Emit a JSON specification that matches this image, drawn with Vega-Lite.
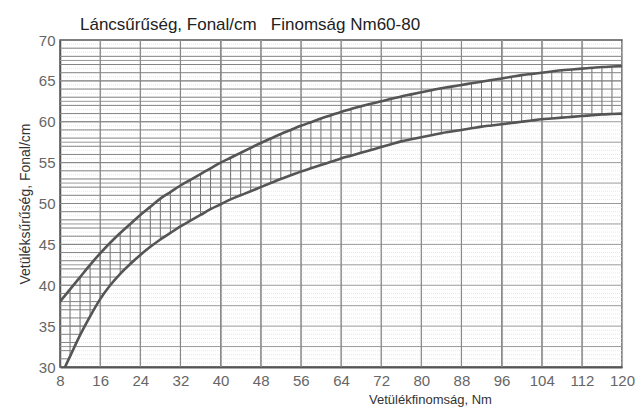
{
  "$schema": "https://vega.github.io/schema/vega-lite/v6.json",
  "width": 562,
  "height": 327,
  "autosize": "none",
  "padding": {"left": 60, "top": 40, "right": 13, "bottom": 40},
  "title": {
    "text": "Láncsűrűség, Fonal/cm\u00a0\u00a0\u00a0Finomság Nm60-80",
    "anchor": "start",
    "frame": "group",
    "dx": 20,
    "offset": -1,
    "font": "Liberation Sans",
    "fontSize": 17,
    "fontWeight": "normal",
    "color": "#222"
  },
  "config": {
    "view": {"stroke": "#555", "strokeWidth": 1.5},
    "axis": {"labelFont": "Liberation Sans", "titleFont": "Liberation Sans"}
  },
  "datasets": {
    "curve": [
      {"x": 8, "lo": 28.7, "hi": 38.0},
      {"x": 10, "lo": 31.3, "hi": 39.5},
      {"x": 12, "lo": 33.9, "hi": 41.0},
      {"x": 14, "lo": 36.2, "hi": 42.5},
      {"x": 16, "lo": 38.3, "hi": 43.9},
      {"x": 18, "lo": 40.0, "hi": 45.2},
      {"x": 20, "lo": 41.4, "hi": 46.4},
      {"x": 22, "lo": 42.6, "hi": 47.5},
      {"x": 24, "lo": 43.7, "hi": 48.6},
      {"x": 26, "lo": 44.7, "hi": 49.6},
      {"x": 28, "lo": 45.6, "hi": 50.6},
      {"x": 30, "lo": 46.4, "hi": 51.4},
      {"x": 32, "lo": 47.2, "hi": 52.2},
      {"x": 34, "lo": 47.9, "hi": 52.9},
      {"x": 36, "lo": 48.6, "hi": 53.6},
      {"x": 38, "lo": 49.3, "hi": 54.3},
      {"x": 40, "lo": 49.9, "hi": 55.0},
      {"x": 42, "lo": 50.5, "hi": 55.6},
      {"x": 44, "lo": 51.0, "hi": 56.2},
      {"x": 46, "lo": 51.5, "hi": 56.8},
      {"x": 48, "lo": 52.0, "hi": 57.4},
      {"x": 50, "lo": 52.5, "hi": 57.95},
      {"x": 52, "lo": 53.0, "hi": 58.5},
      {"x": 54, "lo": 53.45, "hi": 59.0},
      {"x": 56, "lo": 53.9, "hi": 59.5},
      {"x": 58, "lo": 54.3, "hi": 59.95},
      {"x": 60, "lo": 54.7, "hi": 60.4},
      {"x": 62, "lo": 55.1, "hi": 60.8},
      {"x": 64, "lo": 55.5, "hi": 61.2},
      {"x": 66, "lo": 55.85, "hi": 61.55},
      {"x": 68, "lo": 56.2, "hi": 61.9},
      {"x": 70, "lo": 56.55, "hi": 62.2},
      {"x": 72, "lo": 56.9, "hi": 62.5},
      {"x": 74, "lo": 57.25, "hi": 62.8},
      {"x": 76, "lo": 57.6, "hi": 63.1},
      {"x": 78, "lo": 57.85, "hi": 63.35},
      {"x": 80, "lo": 58.1, "hi": 63.6},
      {"x": 82, "lo": 58.35, "hi": 63.85},
      {"x": 84, "lo": 58.6, "hi": 64.1},
      {"x": 86, "lo": 58.8, "hi": 64.3},
      {"x": 88, "lo": 59.0, "hi": 64.5},
      {"x": 90, "lo": 59.2, "hi": 64.7},
      {"x": 92, "lo": 59.4, "hi": 64.9},
      {"x": 94, "lo": 59.55, "hi": 65.1},
      {"x": 96, "lo": 59.7, "hi": 65.3},
      {"x": 98, "lo": 59.85, "hi": 65.5},
      {"x": 100, "lo": 60.0, "hi": 65.7},
      {"x": 102, "lo": 60.15, "hi": 65.85},
      {"x": 104, "lo": 60.3, "hi": 66.0},
      {"x": 106, "lo": 60.4, "hi": 66.15},
      {"x": 108, "lo": 60.5, "hi": 66.3},
      {"x": 110, "lo": 60.6, "hi": 66.4},
      {"x": 112, "lo": 60.7, "hi": 66.5},
      {"x": 114, "lo": 60.8, "hi": 66.6},
      {"x": 116, "lo": 60.9, "hi": 66.7},
      {"x": 118, "lo": 60.95, "hi": 66.75},
      {"x": 120, "lo": 61.0, "hi": 66.8}
    ],
    "hl": [
      {"y": 31, "x1": 8, "x2": 9.8},
      {"y": 32, "x1": 8, "x2": 10.5},
      {"y": 33, "x1": 8, "x2": 11.3},
      {"y": 34, "x1": 8, "x2": 12.1},
      {"y": 35, "x1": 8, "x2": 13.0},
      {"y": 36, "x1": 8, "x2": 13.9},
      {"y": 37, "x1": 8, "x2": 14.8},
      {"y": 38, "x1": 8, "x2": 15.7},
      {"y": 39, "x1": 8, "x2": 16.8},
      {"y": 40, "x1": 8, "x2": 18.0},
      {"y": 41, "x1": 8, "x2": 19.4},
      {"y": 42, "x1": 8, "x2": 21.0},
      {"y": 43, "x1": 8, "x2": 22.7},
      {"y": 44, "x1": 8, "x2": 24.6},
      {"y": 45, "x1": 8, "x2": 26.7},
      {"y": 46, "x1": 8, "x2": 29.0},
      {"y": 47, "x1": 8, "x2": 31.5},
      {"y": 48, "x1": 8, "x2": 34.3},
      {"y": 49, "x1": 8, "x2": 37.2},
      {"y": 50, "x1": 8, "x2": 40.4},
      {"y": 51, "x1": 8, "x2": 44.0},
      {"y": 52, "x1": 8, "x2": 48.0},
      {"y": 53, "x1": 8, "x2": 52.0},
      {"y": 54, "x1": 8, "x2": 56.5},
      {"y": 55, "x1": 8, "x2": 61.5},
      {"y": 56, "x1": 8, "x2": 66.9},
      {"y": 57, "x1": 8, "x2": 72.6},
      {"y": 58, "x1": 8, "x2": 79.2},
      {"y": 59, "x1": 8, "x2": 88.0},
      {"y": 60, "x1": 8, "x2": 100.0},
      {"y": 61, "x1": 8, "x2": 120},
      {"y": 62, "x1": 8, "x2": 120},
      {"y": 63, "x1": 8, "x2": 120},
      {"y": 64, "x1": 8, "x2": 120},
      {"y": 65, "x1": 8, "x2": 120},
      {"y": 66, "x1": 8, "x2": 120},
      {"y": 67, "x1": 8, "x2": 120},
      {"y": 68, "x1": 8, "x2": 120},
      {"y": 69, "x1": 8, "x2": 120}
    ],
    "major": [
      {"x": 16}, {"x": 24}, {"x": 32}, {"x": 40}, {"x": 48}, {"x": 56}, {"x": 64},
      {"x": 72}, {"x": 80}, {"x": 88}, {"x": 96}, {"x": 104}, {"x": 112}
    ],
    "ymid": [
      {"y": 32.5}, {"y": 35}, {"y": 37.5}, {"y": 40}, {"y": 42.5}, {"y": 45}, {"y": 47.5},
      {"y": 50}, {"y": 52.5}, {"y": 55}, {"y": 57.5}, {"y": 60}, {"y": 62.5}, {"y": 65}, {"y": 67.5}
    ],
    "yfine": [
      {"y": 30.5}, {"y": 31}, {"y": 31.5}, {"y": 32}, {"y": 33}, {"y": 33.5}, {"y": 34}, {"y": 34.5},
      {"y": 35.5}, {"y": 36}, {"y": 36.5}, {"y": 37}, {"y": 38}, {"y": 38.5}, {"y": 39}, {"y": 39.5},
      {"y": 40.5}, {"y": 41}, {"y": 41.5}, {"y": 42}, {"y": 43}, {"y": 43.5}, {"y": 44}, {"y": 44.5},
      {"y": 45.5}, {"y": 46}, {"y": 46.5}, {"y": 47}, {"y": 48}, {"y": 48.5}, {"y": 49}, {"y": 49.5},
      {"y": 50.5}, {"y": 51}, {"y": 51.5}, {"y": 52}, {"y": 53}, {"y": 53.5}, {"y": 54}, {"y": 54.5},
      {"y": 55.5}, {"y": 56}, {"y": 56.5}, {"y": 57}, {"y": 58}, {"y": 58.5}, {"y": 59}, {"y": 59.5},
      {"y": 60.5}, {"y": 61}, {"y": 61.5}, {"y": 62}, {"y": 63}, {"y": 63.5}, {"y": 64}, {"y": 64.5},
      {"y": 65.5}, {"y": 66}, {"y": 66.5}, {"y": 67}, {"y": 68}, {"y": 68.5}, {"y": 69}, {"y": 69.5}
    ]
  },
  "layer": [
    {
      "data": {"name": "yfine"},
      "mark": {"type": "rule", "stroke": "#d6d6d6", "strokeWidth": 0.6, "strokeDash": [1, 1]},
      "encoding": {
        "y": {
          "field": "y",
          "type": "quantitative",
          "scale": {"domain": [30, 70], "nice": false, "zero": false},
          "axis": {
            "title": "Vetüléksűrűség, Fonal/cm",
            "titleFontSize": 14,
            "titleFontWeight": "normal",
            "titleColor": "#333",
            "titlePadding": 6,
            "values": [30, 35, 40, 45, 50, 55, 60, 65, 70],
            "labelOverlap": false,
            "labelFlush": false,
            "labelFontSize": 15,
            "labelColor": "#666",
            "labelPadding": 5,
            "ticks": false,
            "grid": false,
            "domainColor": "#555",
            "domainWidth": 1.5
          }
        }
      }
    },
    {
      "data": {"name": "ymid"},
      "mark": {"type": "rule", "stroke": "#9a9a9a", "strokeWidth": 1},
      "encoding": {
        "y": {"field": "y", "type": "quantitative"}
      }
    },
    {
      "data": {"name": "curve"},
      "mark": {"type": "rule", "stroke": "#6e6e6e", "strokeWidth": 1, "clip": true},
      "encoding": {
        "x": {
          "field": "x",
          "type": "quantitative",
          "scale": {"domain": [8, 120], "nice": false, "zero": false},
          "axis": {
            "title": "Vetülékfinomság, Nm",
            "titleFontSize": 13,
            "titleFontWeight": "normal",
            "titleColor": "#333",
            "titleX": 370,
            "titleY": 32,
            "titleBaseline": "middle",
            "titleAnchor": "middle",
            "values": [8,9,10,11,12,13,14,15,16,17,18,19,20,21,22,23,24,25,26,27,28,29,30,31,32,33,34,35,36,37,38,39,40,41,42,43,44,45,46,47,48,49,50,51,52,53,54,55,56,57,58,59,60,61,62,63,64,65,66,67,68,69,70,71,72,73,74,75,76,77,78,79,80,81,82,83,84,85,86,87,88,89,90,91,92,93,94,95,96,97,98,99,100,101,102,103,104,105,106,107,108,109,110,111,112,113,114,115,116,117,118,119,120],
            "labelExpr": "datum.value % 8 === 0 ? datum.label : ''",
            "labelOverlap": false,
            "labelFlush": false,
            "labelFontSize": 15,
            "labelColor": "#666",
            "labelPadding": 6,
            "ticks": false,
            "domainColor": "#555",
            "domainWidth": 2,
            "grid": true,
            "gridColor": {"condition": {"test": "datum.value % 4 === 0", "value": "#aaaaaa"}, "value": "#d6d6d6"},
            "gridWidth": {"condition": {"test": "datum.value % 4 === 0", "value": 1.1}, "value": 0.6},
            "gridDash": {"condition": {"test": "datum.value % 4 === 0", "value": []}, "value": [1, 1]}
          }
        },
        "y": {"field": "lo", "type": "quantitative"},
        "y2": {"field": "hi"}
      }
    },
    {
      "data": {"name": "major"},
      "mark": {"type": "rule", "stroke": "#888", "strokeWidth": 1.1},
      "encoding": {
        "x": {"field": "x", "type": "quantitative"}
      }
    },
    {
      "data": {"name": "hl"},
      "mark": {"type": "rule", "stroke": "#858585", "strokeWidth": 1, "clip": true},
      "encoding": {
        "x": {"field": "x1", "type": "quantitative"},
        "x2": {"field": "x2"},
        "y": {"field": "y", "type": "quantitative"}
      }
    },
    {
      "data": {"name": "curve"},
      "mark": {"type": "line", "stroke": "#555", "strokeWidth": 2.6, "interpolate": "monotone", "clip": true},
      "encoding": {
        "x": {"field": "x", "type": "quantitative"},
        "y": {"field": "hi", "type": "quantitative"}
      }
    },
    {
      "data": {"name": "curve"},
      "mark": {"type": "line", "stroke": "#555", "strokeWidth": 2.6, "interpolate": "monotone", "clip": true},
      "encoding": {
        "x": {"field": "x", "type": "quantitative"},
        "y": {"field": "lo", "type": "quantitative"}
      }
    }
  ]
}
